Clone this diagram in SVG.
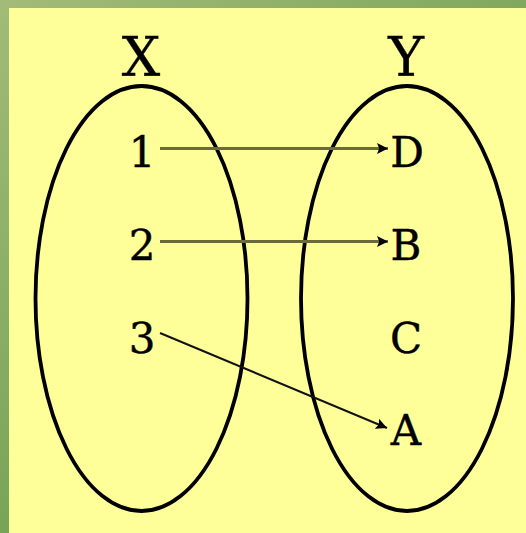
<svg xmlns="http://www.w3.org/2000/svg" width="526" height="533" viewBox="0 0 526 533">
<defs>
<linearGradient id="gt" x1="0" y1="0" x2="1" y2="0"><stop offset="0" stop-color="#a2bb78"/><stop offset="1" stop-color="#80a85e"/></linearGradient>
<linearGradient id="gl" x1="0" y1="0" x2="0" y2="1"><stop offset="0" stop-color="#a2bb78"/><stop offset="1" stop-color="#78a458"/></linearGradient>
<marker id="ah" viewBox="0 0 10 10" refX="10" refY="5" markerWidth="11" markerHeight="11" markerUnits="userSpaceOnUse" orient="auto"><path d="M0,0 L10,5 L0,10 L2,5 Z" fill="#000"/></marker>
<style>
.set{fill:none;stroke:#000;stroke-width:3.8}
.t{font-family:"DejaVu Serif",serif;fill:#000;text-anchor:middle;stroke:#000;stroke-width:0.4}
.big{font-size:54px}
.sm{font-size:42px}
.arr{fill:none;stroke-width:3;marker-end:url(#ah)}
</style>
</defs>
<rect width="526" height="533" fill="#feff99"/>
<rect x="0" y="0" width="526" height="8" fill="url(#gt)"/>
<rect x="0" y="0" width="9" height="533" fill="url(#gl)"/>
<g id="setX">
<ellipse class="set" cx="141.5" cy="298.5" rx="106" ry="212.5"/>
<text class="t big" x="141" y="76">X</text>
<text class="t sm" x="142" y="167">1</text>
<text class="t sm" x="142" y="260">2</text>
<text class="t sm" x="142" y="353">3</text>
</g>
<g id="setY">
<ellipse class="set" cx="407" cy="298.5" rx="106" ry="212.5"/>
<text class="t big" x="406" y="76">Y</text>
<text class="t sm" x="407" y="167">D</text>
<text class="t sm" x="406" y="260">B</text>
<text class="t sm" x="406" y="353">C</text>
<text class="t sm" x="406" y="445">A</text>
</g>
<g id="connectors">
<line class="arr" x1="160" y1="148.5" x2="388" y2="148.5" stroke="#6a6a3c"/>
<line class="arr" x1="160" y1="241.5" x2="388" y2="241.5" stroke="#6a6a3c"/>
<line class="arr" x1="160" y1="333" x2="387" y2="428" stroke="#111" style="stroke-width:2"/>
</g>
</svg>
